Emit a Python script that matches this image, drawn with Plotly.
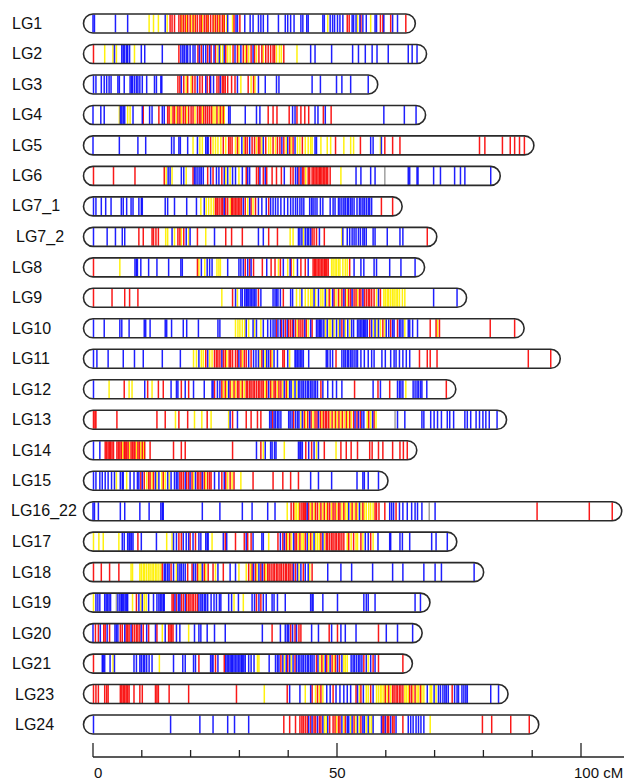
import plotly.graph_objects as go

# ---------------- data (positions in cM) ----------------
LG_NAMES = ["LG1", "LG2", "LG3", "LG4", "LG5", "LG6", "LG7_1", "LG7_2", "LG8", "LG9",
            "LG10", "LG11", "LG12", "LG13", "LG14", "LG15", "LG16_22", "LG17", "LG18",
            "LG19", "LG20", "LG21", "LG23", "LG24"]

LG1 = dict(
    b=[0, 0.3, 4.6, 7.1, 14.8, 27.6, 29.3, 29.6, 31.1, 32.2, 32.8, 33.9, 34.4, 34.9, 35.8, 38.0, 39.4, 39.9, 40.5, 41.2, 42.6, 43.0, 43.8, 44.1, 47.1, 47.4, 48.6, 49.1, 49.5, 50.1, 50.6, 51.2, 53.1, 53.4, 53.9, 54.7, 55.3, 56.0, 57.8, 58.1, 59.6, 61.4, 62.4],
    y=[11.5, 12.4, 13.4, 15.2, 18.2, 19.2, 20.1, 20.7, 22.4, 23.5, 24.8, 25.8, 26.7, 27.4, 28.6, 48.1, 54.2, 56.9],
    r=[15.8, 16.2, 16.7, 17.6, 18.0, 18.5, 18.9, 19.4, 19.9, 20.5, 21.0, 21.4, 21.9, 22.2, 22.8, 23.2, 23.6, 24.1, 24.6, 25.1, 25.5, 26.0, 26.5, 26.9, 28.9, 30.1, 52.1, 52.5, 54.9, 58.9, 59.4, 61.0, 64.1])
LG2 = dict(
    r=[0.1, 17.6, 21.5, 22.2, 23.5, 24.2, 25.1, 27.2, 28.7, 29.6, 30.8, 31.5, 32.4, 33.1, 34.0, 34.6, 35.4, 35.9, 36.4, 36.9, 37.2, 39.1],
    y=[2.4, 4.1, 4.8, 8.5, 25.6, 26.1, 26.6, 27.6, 28.1, 29.9, 31.2, 31.9, 33.5, 34.9, 37.6, 38.2, 38.6, 41.8],
    b=[4.4, 5.9, 6.2, 6.5, 6.9, 7.1, 7.5, 9.9, 10.6, 14.2, 18.0, 18.4, 18.7, 19.1, 19.4, 19.9, 20.5, 20.9, 21.8, 22.6, 23.1, 23.9, 24.8, 25.9, 26.9, 29.1, 30.3, 32.8, 44.6, 45.5, 48.9, 53.2, 54.4, 55.8, 57.2, 58.2, 60.5, 64.6, 65.4, 66.4])
LG3 = dict(
    b=[0.1, 0.6, 1.7, 2.3, 2.8, 3.3, 3.7, 5.1, 5.4, 6.4, 7.6, 7.9, 8.1, 8.5, 8.9, 9.2, 9.6, 10.1, 11.0, 12.6, 13.0, 13.9, 14.1, 18.1, 21.4, 23.1, 24.1, 24.7, 26.1, 29.6, 33.9, 35.3, 37.6, 38.1, 44.9, 46.6, 49.9, 51.0, 52.8, 56.4],
    r=[17.4, 17.8, 18.6, 19.4, 20.4, 20.9, 21.9, 22.4, 23.4, 23.9, 25.4, 25.8, 26.5, 26.8, 27.1, 27.6, 28.4, 29.1, 31.8, 32.9],
    y=[19.1, 20.1, 30.3, 32.4, 33.2])
LG4 = dict(
    b=[0, 1.6, 2.3, 5.6, 5.9, 6.2, 6.5, 8.2, 10.1, 11.6, 12.1, 14.2, 14.6, 27.8, 28.1, 31.2, 33.5, 34.2, 40.9, 41.4, 45.5, 46.1, 47.6, 59.6, 63.8, 66.2],
    y=[5.4, 7.1, 7.6, 16.0, 17.1, 18.1, 19.2, 20.9, 22.4, 24.6, 25.0, 25.8, 26.4, 26.9],
    r=[10.3, 13.5, 15.3, 15.6, 16.4, 16.7, 17.4, 17.8, 18.5, 18.9, 19.6, 20.1, 20.5, 21.4, 21.8, 22.1, 22.7, 23.1, 23.5, 23.9, 24.3, 25.4, 26.1, 26.7, 35.9, 36.9, 37.7, 40.2, 41.8, 42.6, 43.4, 44.2, 47.2, 48.8])
LG5 = dict(
    b=[0, 5.4, 9.2, 10.8, 16.1, 16.6, 17.6, 17.9, 19.4, 21.4, 23.1, 23.4, 23.6, 30.5, 32.1, 34.9, 38.7, 39.9, 41.4, 45.5, 45.8, 56.9, 57.4, 59.1],
    y=[20.5, 21.9, 22.4, 24.6, 25.1, 25.6, 26.2, 27.2, 29.2, 29.9, 30.9, 33.5, 34.6, 36.0, 36.4, 37.4, 39.6, 40.6, 41.9, 42.4, 43.5, 44.1, 44.6, 44.9, 46.7, 48.0, 48.7, 51.4, 52.8, 53.4, 58.9],
    r=[24.1, 26.7, 27.8, 28.1, 28.5, 29.6, 31.2, 31.6, 32.6, 33.1, 33.9, 34.2, 35.4, 36.9, 37.8, 38.3, 39.1, 40.3, 41.0, 42.9, 49.7, 54.8, 59.8, 61.4, 62.9, 79.2, 80.3, 83.9, 85.5, 86.4, 87.4, 88.4])
LG6 = dict(
    r=[0.1, 4.2, 8.6, 14.6, 20.5, 23.5, 24.6, 26.4, 31.4, 33.5, 33.9, 34.9, 35.6, 36.7, 37.6, 38.6, 40.5, 41.0, 42.2, 42.9, 43.2, 44.1, 44.4, 44.9, 45.2, 45.5, 45.8, 46.1, 46.4, 46.6, 46.9, 47.2, 47.5, 47.8, 48.1, 48.6],
    y=[15.0, 16.2, 19.1, 27.2, 28.1, 29.9, 43.6, 50.8],
    b=[15.4, 15.8, 18.1, 18.6, 20.8, 21.1, 21.5, 21.9, 22.2, 22.6, 24.1, 25.3, 25.8, 26.9, 27.6, 28.6, 29.2, 30.6, 31.7, 32.1, 34.2, 35.3, 39.2, 41.5, 41.9, 42.6, 53.9, 54.9, 56.9, 57.8, 64.6, 64.9, 66.4, 66.6, 69.8, 71.2, 74.1, 75.3, 76.2, 81.5],
    g=[59.8])
LG7_1 = dict(
    b=[0.1, 0.6, 1.7, 2.6, 3.7, 5.8, 6.2, 6.9, 7.8, 8.2, 9.4, 9.9, 10.1, 14.8, 15.3, 16.7, 19.2, 21.2, 22.8, 26.9, 30.8, 32.1, 33.9, 34.6, 35.5, 36.4, 36.9, 37.4, 37.9, 38.5, 39.2, 39.9, 40.5, 41.0, 41.5, 41.9, 42.4, 42.8, 43.2, 44.4, 44.8, 45.1, 45.5, 45.9, 46.6, 47.1, 48.6, 49.2, 49.6, 50.3, 50.6, 51.0, 51.4, 51.7, 52.1, 52.4, 52.8, 53.1, 53.5, 54.1, 54.6, 54.9, 55.3, 55.6, 56.0, 56.4, 56.7, 57.1],
    y=[22.1, 23.2, 23.7, 24.2, 24.7, 28.1, 31.7, 32.8],
    r=[25.1, 25.4, 25.6, 26.0, 26.4, 26.6, 27.2, 27.6, 28.4, 28.6, 28.9, 29.2, 29.5, 29.8, 30.1, 30.4, 31.2, 32.4, 33.3, 36.0, 59.1, 61.4])
LG7_2 = dict(
    b=[0.1, 2.9, 4.6, 6.0, 6.5, 16.2, 19.1, 19.9, 24.9, 33.9, 34.9, 42.1, 42.4, 42.8, 43.5, 43.9, 44.2, 44.6, 46.4, 51.2, 52.1, 52.6, 53.1, 53.5, 53.9, 54.4, 54.8, 55.3, 55.6, 56.0, 57.4, 57.8, 60.3, 62.9, 63.5],
    y=[14.9, 15.3, 16.7, 18.1, 19.6, 23.1, 40.4, 41.0, 43.1, 51.0],
    r=[9.4, 10.3, 12.1, 12.4, 12.9, 13.4, 17.4, 17.8, 18.6, 21.4, 27.2, 28.4, 30.6, 36.0, 37.8, 44.9, 45.3, 45.8, 47.4, 68.5])
LG8 = dict(
    r=[0.1, 21.4, 31.2, 32.1, 32.9, 34.7, 36.5, 37.3, 38.4, 40.6, 42.6, 43.5, 45.1, 45.4, 45.6, 45.9, 46.2, 46.5, 46.8, 47.1, 47.4, 47.6, 47.9, 48.2, 52.6],
    y=[5.5, 21.7, 22.9, 25.4, 25.8, 26.1, 38.0, 39.9, 41.1, 48.9, 49.2, 49.6, 49.9, 50.3, 50.6, 51.2, 51.7, 52.1],
    b=[8.6, 8.9, 9.1, 9.8, 11.4, 13.1, 15.5, 18.0, 18.3, 22.2, 23.4, 23.9, 24.4, 27.6, 29.9, 30.3, 30.8, 31.7, 32.4, 35.6, 39.0, 40.4, 41.9, 44.1, 53.5, 54.9, 55.5, 57.6, 58.1, 60.8, 63.1, 66.0])
LG9 = dict(
    r=[0.1, 3.9, 6.5, 7.5, 9.2, 28.6, 33.9, 39.0, 48.4, 49.4, 50.3, 51.0, 51.7, 52.4, 52.8, 53.5, 53.9, 54.6, 54.9, 55.6, 56.0, 56.4, 56.7, 57.1, 57.6, 58.9],
    y=[26.4, 29.6, 41.7, 42.4, 43.5, 44.1, 44.6, 44.9, 45.6, 46.7, 47.1, 47.9, 48.6, 49.8, 50.6, 52.1, 54.2, 58.1, 59.6, 59.9, 60.3, 60.6, 61.0, 61.4, 61.7, 62.1, 62.4, 62.8, 63.4, 63.9],
    b=[29.2, 30.3, 30.6, 31.1, 31.4, 31.6, 31.9, 32.2, 32.5, 32.8, 33.1, 33.4, 34.4, 36.9, 37.3, 37.6, 37.9, 38.4, 40.5, 40.9, 42.8, 45.3, 46.2, 47.6, 49.1, 51.4, 53.1, 55.3, 58.5, 69.8, 74.6])
LG10 = dict(
    b=[0.1, 2.3, 5.5, 5.9, 7.4, 10.5, 10.8, 11.7, 14.8, 15.1, 16.1, 18.5, 19.2, 21.6, 25.6, 26.0, 31.4, 32.8, 33.5, 34.9, 35.8, 36.4, 36.9, 37.3, 37.9, 38.4, 39.0, 39.8, 41.1, 43.4, 44.6, 45.8, 46.1, 46.4, 46.6, 46.9, 47.3, 48.0, 49.1, 49.9, 50.6, 51.4, 52.2, 53.0, 53.4, 54.2, 54.5, 54.8, 55.1, 55.4, 55.6, 55.9, 56.2, 57.1, 57.8, 58.5, 60.1, 60.6, 61.4, 61.7, 62.8, 63.1, 63.5, 64.6, 64.9, 65.5, 66.5],
    y=[29.2, 29.7, 30.1, 30.6, 31.1, 31.9, 33.1, 34.4, 41.9, 44.1, 47.6, 48.4, 48.7, 49.4, 50.3, 51.7, 52.6, 57.5, 58.2, 58.9, 59.8, 63.9, 70.6],
    r=[37.6, 38.6, 39.4, 40.1, 40.5, 40.9, 41.5, 42.2, 42.6, 43.0, 43.7, 44.9, 51.0, 56.7, 59.4, 61.0, 62.4, 69.1, 70.3, 71.0, 81.4, 86.4])
LG11 = dict(
    b=[0.1, 0.8, 3.1, 6.2, 8.5, 10.3, 14.2, 17.9, 21.7, 23.5, 26.4, 29.9, 31.9, 32.9, 33.4, 33.9, 34.9, 35.6, 36.0, 37.1, 37.8, 39.9, 41.4, 41.6, 41.9, 42.2, 42.5, 42.8, 43.1, 44.2, 47.8, 48.1, 48.6, 49.1, 51.0, 51.4, 51.7, 52.1, 52.4, 52.8, 53.1, 53.5, 53.9, 54.2, 54.9, 55.6, 56.4, 57.1, 57.6, 59.2, 59.9, 61.0, 61.7, 62.1, 62.8, 63.5, 64.2, 64.9],
    y=[20.6, 21.2, 22.2, 22.6, 23.9, 24.4, 27.4, 30.6, 34.2, 35.3, 36.7, 40.3],
    r=[23.1, 24.9, 25.3, 25.6, 26.0, 26.7, 27.1, 27.9, 28.2, 28.6, 29.2, 29.6, 30.3, 31.0, 31.4, 32.4, 34.6, 36.4, 38.9, 39.2, 49.8, 66.9, 68.5, 69.1, 70.5, 89.2, 93.8])
LG12 = dict(
    b=[0.1, 10.6, 16.0, 17.1, 17.4, 18.9, 20.6, 22.8, 24.4, 24.6, 25.5, 26.0, 27.8, 36.0, 39.2, 40.3, 40.6, 41.4, 42.1, 42.4, 42.8, 43.1, 43.5, 43.9, 44.2, 44.6, 44.9, 45.3, 45.6, 46.0, 47.1, 48.1, 49.1, 49.9, 51.0, 57.4, 58.9, 62.4, 62.8, 63.1, 63.5, 65.6, 66.0, 66.4, 66.7, 67.1, 67.4, 68.4],
    y=[3.3, 7.4, 8.0, 12.1, 26.7, 27.4, 28.5, 29.2, 30.3, 31.0, 35.3, 36.7, 37.8, 38.9, 39.9, 41.0, 41.7, 64.1],
    r=[6.4, 11.2, 13.4, 14.4, 18.1, 19.6, 24.9, 26.4, 27.1, 28.1, 28.9, 29.6, 29.9, 30.6, 31.4, 31.7, 32.1, 32.4, 32.8, 33.1, 33.5, 33.9, 34.2, 34.6, 34.9, 35.6, 36.4, 37.1, 37.4, 38.1, 38.5, 39.6, 46.7, 53.6, 58.4, 60.8, 72.4])
LG13 = dict(
    r=[0.1, 0.4, 0.6, 4.9, 13.1, 14.8, 17.6, 19.4, 23.4, 28.6, 31.4, 32.4, 33.7, 34.4, 36.8, 41.1, 43.3, 44.0, 44.7, 45.5, 45.9, 46.6, 47.2, 47.6, 47.9, 48.3, 49.0, 49.7, 50.4, 51.1, 51.9, 52.6, 53.4, 54.1, 54.8, 56.5, 57.6],
    y=[16.9, 20.8, 22.3, 24.2, 27.8, 42.6, 43.6, 45.1, 46.9, 48.6, 49.4, 50.1, 50.8, 51.5, 52.2, 52.9, 56.2, 56.9, 58.0],
    b=[28.1, 29.6, 36.2, 36.5, 37.1, 37.4, 37.8, 38.1, 38.5, 40.1, 40.4, 40.8, 41.5, 41.9, 42.2, 42.9, 44.4, 46.2, 53.7, 54.4, 55.1, 55.5, 57.3, 62.4, 63.9, 67.4, 67.8, 69.2, 69.9, 70.6, 71.4, 72.6, 73.1, 73.9, 76.2, 76.7, 77.4, 78.5, 79.2, 79.9, 80.5, 81.2, 82.8],
    g=[61.9])
LG14 = dict(
    b=[0.1, 1.4, 33.5, 35.3, 36.4, 36.7, 37.2, 37.5, 42.1, 42.4, 42.6, 42.9, 44.2, 45.3, 46.2],
    r=[2.5, 2.8, 3.1, 3.4, 3.6, 3.9, 4.2, 4.9, 5.2, 5.5, 5.8, 6.4, 6.6, 6.9, 7.2, 7.8, 8.1, 8.4, 8.6, 9.2, 9.5, 10.1, 10.6, 11.7, 16.5, 18.1, 18.9, 28.6, 34.4, 43.6, 44.8, 47.4, 50.8, 51.9, 52.9, 54.2, 56.7, 57.2, 58.5, 59.4, 61.4, 62.9, 63.6, 64.4],
    y=[6.1, 7.5, 8.9, 9.8, 10.4, 34.9, 39.2, 45.8, 49.8])
LG15 = dict(
    b=[0.1, 0.6, 1.4, 1.9, 2.5, 3.1, 3.8, 4.4, 5.6, 6.0, 6.2, 7.6, 8.4, 9.1, 9.4, 10.1, 12.8, 13.5, 15.3, 16.0, 16.7, 17.1, 17.4, 18.9, 19.9, 21.0, 22.4, 24.9, 25.8, 26.9, 44.6, 46.2, 48.9, 54.1, 55.3, 55.6, 56.4, 58.5],
    y=[4.8, 6.9, 11.0, 12.1, 13.1, 14.1, 14.8, 15.6, 20.6, 23.1, 27.6, 28.5, 30.3],
    r=[9.8, 10.5, 11.4, 11.7, 12.4, 14.4, 17.8, 18.1, 18.5, 19.2, 19.6, 20.3, 21.4, 21.7, 22.1, 22.8, 23.5, 23.9, 24.2, 26.4, 27.2, 28.1, 28.9, 32.8, 36.9, 38.9, 40.5, 42.1])
LG16_22 = dict(
    b=[0, 0.3, 1.1, 5.6, 6.5, 9.6, 11.5, 13.9, 14.2, 14.4, 22.4, 26.0, 30.6, 32.6, 35.8, 37.3, 43.9, 52.4, 54.6, 60.8, 61.2, 61.6, 62.8, 63.5, 64.4, 65.3, 66.0, 66.5, 67.4, 70.1],
    y=[39.8, 41.4, 41.7, 42.1, 44.6, 45.3, 46.4, 47.1, 47.8, 48.9, 49.9, 51.0, 51.7, 52.1, 52.8, 53.5, 54.2, 54.9, 55.6, 56.0, 56.5, 56.9, 57.4],
    r=[40.6, 41.1, 42.4, 42.8, 43.1, 43.4, 43.6, 44.2, 44.9, 45.6, 46.0, 46.7, 47.4, 48.1, 48.5, 49.2, 49.6, 50.3, 50.6, 51.4, 53.1, 53.9, 55.3, 57.8, 58.1, 58.6, 59.8, 62.1, 91.0, 101.7, 106.4],
    g=[68.9])
LG17 = dict(
    y=[0.1, 1.2, 2.1, 5.3, 15.1, 16.2, 24.4, 36.0, 39.9, 40.6, 42.1, 42.8, 43.1, 44.2, 44.9, 45.6, 46.0, 46.4, 47.4, 52.1, 52.9, 53.9, 54.2, 55.3, 57.4],
    b=[6.0, 6.4, 7.1, 7.4, 7.6, 7.9, 8.2, 9.9, 13.0, 16.5, 17.1, 18.5, 19.1, 19.6, 20.5, 21.7, 22.1, 23.1, 23.4, 23.6, 26.7, 27.4, 31.4, 32.8, 34.6, 34.9, 38.4, 39.2, 41.1, 43.9, 45.3, 47.1, 55.8, 56.4, 58.4, 60.8, 61.0, 62.9, 63.4, 64.9, 69.4, 70.3, 72.6],
    r=[9.2, 17.6, 18.1, 19.9, 21.0, 27.1, 29.2, 31.0, 31.7, 32.4, 37.9, 38.9, 39.6, 40.3, 41.4, 41.7, 42.4, 43.5, 44.6, 46.7, 47.8, 48.1, 48.5, 48.9, 49.2, 49.6, 49.9, 50.3, 50.6, 51.0, 51.4, 52.4, 53.4, 54.9, 56.9])
LG18 = dict(
    r=[0.1, 1.7, 3.4, 5.3, 14.2, 16.0, 19.4, 20.3, 21.4, 22.8, 23.6, 24.6, 26.7, 31.9, 32.6, 33.3, 34.4, 35.1, 35.8, 36.1, 36.5, 36.9, 37.2, 37.6, 37.9, 38.3, 38.6, 39.0, 39.4, 39.7, 40.1, 40.4, 40.8, 41.5, 43.1, 44.9],
    y=[7.8, 8.1, 9.6, 9.9, 10.3, 10.6, 11.0, 11.4, 11.7, 12.1, 12.4, 12.8, 13.1, 13.5, 13.9, 17.1, 21.7, 22.1, 23.1, 25.1, 29.9, 31.4, 32.3, 33.6, 35.4, 42.2, 44.4],
    b=[14.6, 14.9, 15.3, 15.6, 16.5, 17.4, 17.8, 18.1, 18.5, 18.9, 20.6, 21.0, 22.4, 25.6, 28.1, 29.2, 32.9, 34.0, 34.7, 41.1, 41.9, 42.6, 43.5, 44.1, 48.1, 50.8, 53.0, 57.3, 61.4, 63.5, 67.8, 70.1, 71.4, 78.1])
LG19 = dict(
    y=[0.1, 8.1, 9.8, 10.5, 10.9, 28.9, 30.8],
    b=[0.6, 1.0, 1.4, 2.4, 2.7, 3.0, 3.3, 3.6, 5.1, 5.5, 5.8, 6.0, 6.3, 6.6, 6.9, 7.1, 9.4, 10.1, 11.4, 12.4, 13.1, 13.5, 13.8, 14.1, 14.4, 14.6, 16.8, 17.5, 17.8, 18.9, 21.7, 22.1, 22.4, 22.8, 23.1, 23.5, 24.2, 24.8, 25.3, 25.9, 26.2, 27.8, 28.4, 29.8, 32.6, 33.1, 34.0, 34.9, 35.5, 36.7, 37.1, 37.8, 39.4, 44.6, 44.9, 45.1, 47.1, 50.1, 55.5, 56.0, 56.4, 57.8, 66.0, 67.1],
    r=[8.9, 16.2, 16.5, 17.1, 18.1, 18.5, 19.2, 19.6, 19.9, 20.3, 20.6, 21.0, 21.4, 33.5, 34.4],
    g=[4.8])
LG20 = dict(
    b=[0, 1.5, 2.9, 4.5, 4.8, 5.1, 6.5, 7.8, 9.9, 11.0, 12.8, 14.8, 17.1, 17.8, 20.8, 21.7, 22.1, 23.4, 24.9, 27.1, 34.7, 38.4, 39.4, 39.8, 40.1, 40.9, 41.7, 44.8, 46.2, 48.9, 50.8, 51.7, 53.9, 60.1, 62.4, 65.5],
    r=[0.5, 1.1, 2.2, 2.5, 3.4, 5.6, 6.0, 6.8, 7.1, 7.4, 8.1, 8.5, 8.9, 9.2, 9.6, 10.3, 11.4, 13.1, 15.5, 15.8, 16.1, 16.4, 36.7, 40.5, 41.4, 42.2, 42.6, 48.4, 50.1, 58.5],
    y=[14.2, 19.6])
LG21 = dict(
    r=[0.1, 21.7, 25.1, 26.9, 38.5, 39.9, 41.4, 45.8, 46.9, 47.9, 49.0, 49.7, 50.5, 55.5, 57.4, 58.5, 63.5],
    y=[4.1, 13.6, 33.7, 34.0, 39.2, 40.6, 46.5, 47.2, 48.3, 49.4, 51.4, 51.7, 52.1, 56.4],
    b=[1.9, 2.1, 2.4, 3.5, 4.4, 8.4, 8.9, 9.6, 9.9, 10.3, 10.6, 11.0, 11.5, 12.1, 16.5, 18.4, 18.9, 20.6, 21.0, 24.1, 24.4, 24.6, 25.6, 27.2, 27.5, 27.8, 28.1, 28.4, 28.6, 28.9, 29.2, 29.5, 29.8, 30.1, 30.4, 30.6, 30.9, 31.2, 31.9, 32.4, 33.0, 36.1, 37.4, 37.8, 38.1, 38.9, 39.6, 40.3, 41.0, 41.7, 42.1, 42.4, 42.8, 43.1, 43.5, 43.9, 44.2, 44.6, 44.9, 45.3, 46.1, 47.6, 48.6, 50.1, 51.0, 52.9, 53.3, 53.6, 54.0, 54.4, 54.7, 55.1, 56.0, 56.9, 57.8])
LG23 = dict(
    r=[0.1, 0.6, 1.1, 2.4, 2.8, 3.1, 5.6, 5.9, 6.2, 6.5, 6.8, 7.1, 7.4, 8.4, 9.6, 10.1, 12.8, 13.1, 13.4, 15.6, 19.6, 29.4, 39.8, 44.9, 46.0, 46.7, 49.2, 53.9, 54.9, 56.9, 59.9, 60.6, 61.4, 61.7, 62.1, 62.4, 62.8, 63.1, 63.5, 64.9, 65.3, 66.0, 67.1, 73.6],
    y=[35.1, 43.5, 45.6, 46.4, 47.1, 54.6, 56.0, 56.4, 58.1, 58.5, 58.9, 59.2, 59.6, 60.3, 61.0, 63.9, 64.2, 64.6, 65.6, 66.4, 66.7, 67.4, 67.8, 69.1, 69.4, 70.3],
    b=[40.3, 42.4, 44.6, 47.9, 48.6, 49.8, 50.6, 51.4, 52.1, 52.8, 54.2, 55.4, 57.4, 68.5, 69.9, 70.8, 71.2, 71.7, 72.1, 72.4, 72.8, 74.1, 74.6, 74.9, 75.6, 76.0, 76.4, 76.7, 81.5, 83.1])
LG24 = dict(
    b=[0.1, 15.9, 21.9, 24.6, 27.6, 29.0, 31.9, 44.2, 44.9, 46.0, 47.1, 48.1, 51.0, 52.1, 52.4, 53.1, 54.2, 55.3, 55.6, 56.4, 57.4, 59.1, 59.9, 61.0, 62.1, 64.6, 65.1, 65.6, 66.2, 66.7, 67.2, 67.8],
    r=[39.1, 40.3, 41.5, 42.4, 42.8, 43.1, 43.5, 43.9, 44.6, 45.3, 45.6, 46.4, 46.7, 48.5, 49.2, 49.6, 50.3, 50.6, 51.7, 53.5, 54.9, 59.4, 59.6, 60.3, 60.6, 61.4, 61.7, 63.5, 79.8, 81.7, 85.6, 89.4],
    y=[47.4, 47.8, 49.9, 51.4, 52.8, 53.9, 54.6, 56.0, 56.7, 57.1, 69.1])

GROUPS = [LG1, LG2, LG3, LG4, LG5, LG6, LG7_1, LG7_2, LG8, LG9, LG10, LG11, LG12,
          LG13, LG14, LG15, LG16_22, LG17, LG18, LG19, LG20, LG21, LG23, LG24]

AXIS_TICKS = list(range(0, 111, 10))
AXIS_LABELS = {0: "0", 50: "50", 100: "100 cM"}

# ---------------- layout constants (screen pixels) ----------------
WIN_W, WIN_H = 632, 782
PAGE_OFF = 8          # default body margin of the html page
W, H = WIN_W - PAGE_OFF, WIN_H - PAGE_OFF
X0PX = 93.0          # screen pixel of 0 cM
PXCM = 4.88          # pixels per cM
Y_FIRST = 23.5       # centre of first bar (screen px)
DY = 30.48           # row spacing (px)
HH = 9.5             # half height of bars (px)
RX = HH / PXCM       # cap radius in cM
AXIS_Y = 757
LABEL_X = [10, 10, 10, 10, 10, 10, 10, 14, 10, 10, 10, 10, 10, 10, 10, 10, 8.5, 10, 10, 10, 10, 10, 13, 13]
FONT = dict(family="Arial, Liberation Sans", size=16, color="#111")
AXIS_FONT = dict(family="Arial, Liberation Sans", size=15, color="#111")

COLORS = {"y": "rgba(255,240,0,0.95)", "r": "rgba(250,0,0,0.9)",
          "b": "rgba(0,0,255,0.88)", "g": "rgba(150,150,150,0.9)"}

fig = go.Figure()

for key in ["y", "g", "r", "b"]:
    xs, ys = [], []
    for i, grp in enumerate(GROUPS):
        yc = Y_FIRST + i * DY
        for p in grp.get(key, []):
            xs += [p, p, None]
            ys += [yc - HH + 0.5, yc + HH - 0.5, None]
    fig.add_trace(go.Scatter(x=xs, y=ys, mode="lines",
                             line=dict(color=COLORS[key], width=1.5),
                             hoverinfo="skip", showlegend=False))

k = 0.5523
shapes = []
for i, grp in enumerate(GROUPS):
    yc = Y_FIRST + i * DY
    L = max(max(v) for v in grp.values())
    t, b = yc - HH, yc + HH
    path = (f"M 0,{t} L {L},{t} "
            f"C {L + k*RX},{t} {L + RX},{yc - k*HH} {L + RX},{yc} "
            f"C {L + RX},{yc + k*HH} {L + k*RX},{b} {L},{b} "
            f"L 0,{b} "
            f"C {-k*RX},{b} {-RX},{yc + k*HH} {-RX},{yc} "
            f"C {-RX},{yc - k*HH} {-k*RX},{t} 0,{t} Z")
    shapes.append(dict(type="path", path=path, xref="x", yref="y",
                       line=dict(color="#2a2a2a", width=1.6), layer="above"))

# axis
xmin = (PAGE_OFF - X0PX) / PXCM
xmax = (WIN_W - X0PX) / PXCM
shapes.append(dict(type="line", x0=0, x1=xmax, y0=AXIS_Y, y1=AXIS_Y, xref="x", yref="y",
                   line=dict(color="#222", width=1.3)))
for tck in AXIS_TICKS:
    ln = 14 if tck % 50 == 0 else 7
    shapes.append(dict(type="line", x0=tck, x1=tck, y0=AXIS_Y, y1=AXIS_Y - ln,
                       xref="x", yref="y", line=dict(color="#222", width=1.3)))

annotations = []
for i, name in enumerate(LG_NAMES):
    yc = Y_FIRST + i * DY
    annotations.append(dict(x=(LABEL_X[i] - X0PX) / PXCM, y=yc, xref="x", yref="y",
                            text=name, showarrow=False, xanchor="left", yanchor="middle",
                            font=FONT))
for v, txt in AXIS_LABELS.items():
    if v == 0:
        xa, xx = "left", v - 0.3
    elif v == 100:
        xa, xx = "left", v - 1.8
    else:
        xa, xx = "center", v
    annotations.append(dict(x=xx, y=AXIS_Y + 15, xref="x", yref="y", text=txt,
                            showarrow=False, xanchor=xa, yanchor="middle", font=AXIS_FONT))

fig.update_layout(
    width=W, height=H, margin=dict(l=0, r=0, t=0, b=0),
    paper_bgcolor="white", plot_bgcolor="white",
    xaxis=dict(range=[xmin, xmax], visible=False, fixedrange=True),
    yaxis=dict(range=[WIN_H, PAGE_OFF], visible=False, fixedrange=True),
    shapes=shapes, annotations=annotations,
)

fig.write_html("out.html")
